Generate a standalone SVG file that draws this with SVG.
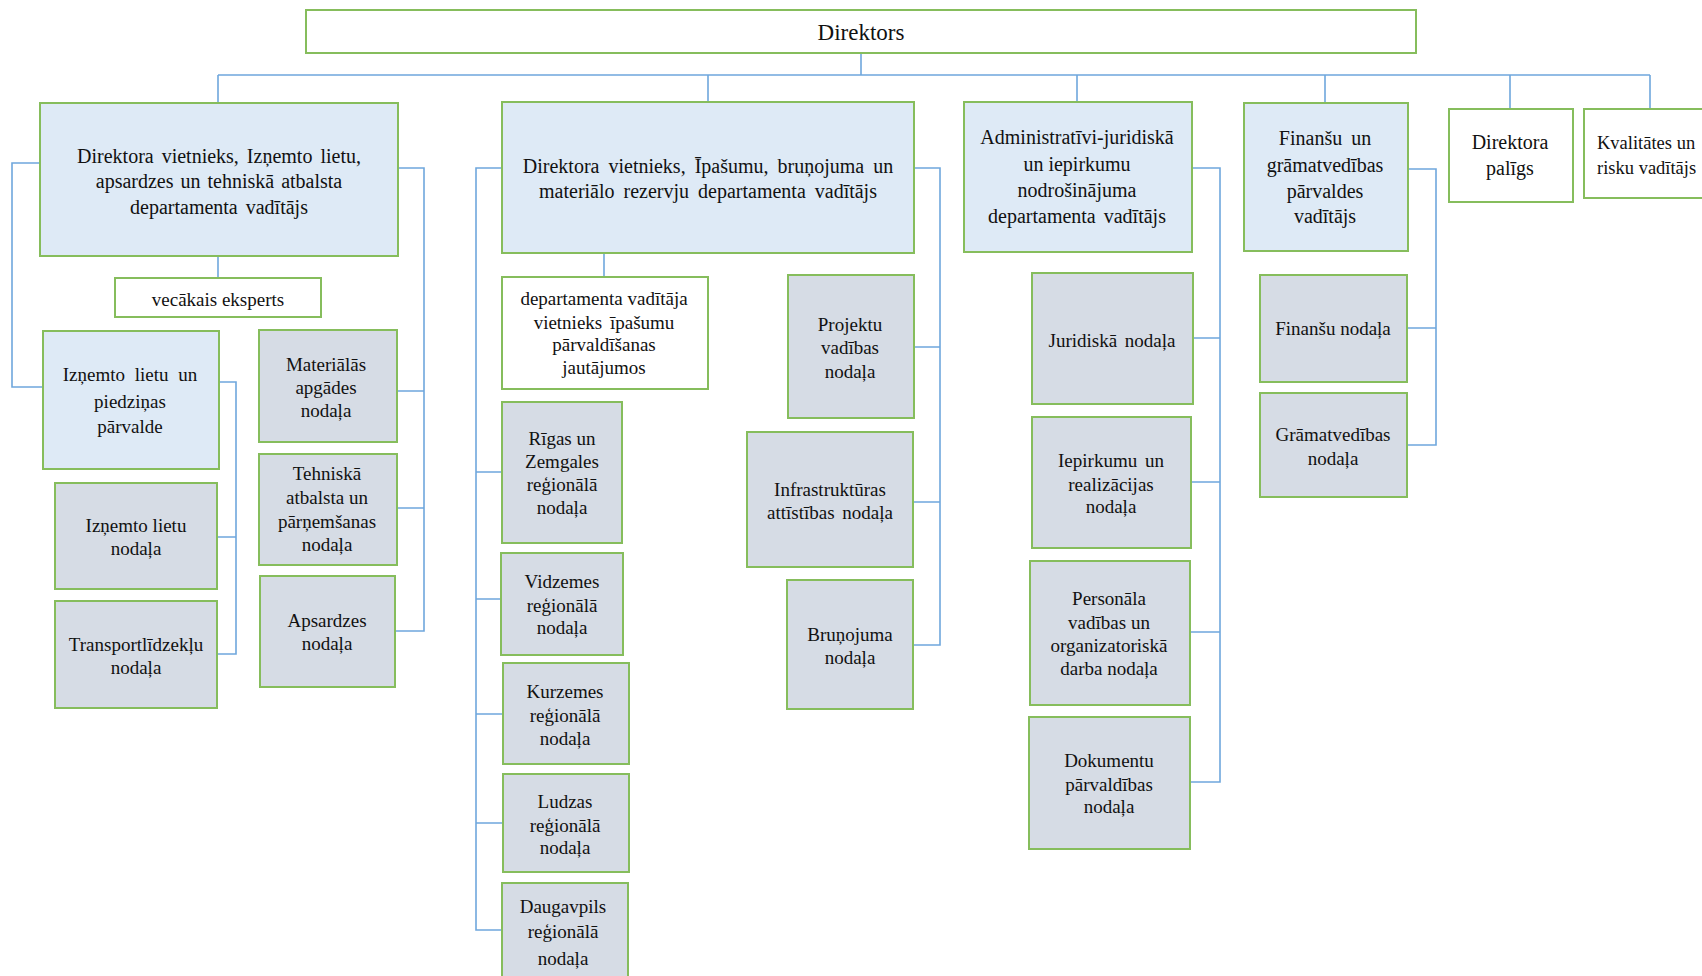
<svg xmlns="http://www.w3.org/2000/svg" width="1702" height="976" viewBox="0 0 1702 976">
<style>
.n{stroke:#86bd5c;stroke-width:2}
.w{fill:#ffffff}
.b{fill:#deeaf6}
.g{fill:#d6dce5}
text{font-family:"Liberation Serif","Times New Roman",serif;font-size:19px;fill:#111;text-anchor:middle}
.h text{font-size:20px}
.c{fill:none;stroke:#6fa7dd;stroke-width:1.6}
</style>
<rect width="1702" height="976" fill="#fff"/>
<g id="connectors" class="c">
<path d="M861,53V75M218,75H1650M218,75V103M708,75V102M1077,75V102M1325,75V103M1510,75V109M1650,75V109"/>
<path d="M40,163H12V387H43"/>
<path d="M397,168H424V631H395M397,391H424M397,508H424"/>
<path d="M218,256V278"/>
<path d="M219,382H236V654H217M217,537H236"/>
<path d="M502,168H476V930H502M476,472H502M476,599H501M476,714H503M476,823H503"/>
<path d="M604,253V277"/>
<path d="M914,168H940V645H913M914,347H940M913,502H940"/>
<path d="M1192,168H1220V782H1190M1193,338H1220M1191,482H1220M1190,632H1220"/>
<path d="M1408,169H1436V445H1407M1407,328H1436"/>
</g>
<g id="direktors"><rect class="n w" x="306" y="10" width="1110" height="43"/><text x="861" y="40" style="font-size:23px">Direktors</text></g>
<g id="vietnieks1" class="h"><rect class="n b" x="40" y="103" width="358" height="153"/><text x="219" y="163" word-spacing="3">Direktora vietnieks, Izņemto lietu,</text><text x="219" y="188" word-spacing="2">apsardzes un tehniskā atbalsta</text><text x="219" y="214" word-spacing="3">departamenta vadītājs</text></g>
<g id="vecakais"><rect class="n w" x="115" y="278" width="206" height="39"/><text x="218" y="306">vecākais eksperts</text></g>
<g id="parvalde"><rect class="n b" x="43" y="331" width="176" height="138"/><text x="130" y="381" word-spacing="5">Izņemto lietu un</text><text x="130" y="408">piedziņas</text><text x="130" y="433">pārvalde</text></g>
<g id="iznemto"><rect class="n g" x="55" y="483" width="162" height="106"/><text x="136" y="532">Izņemto lietu</text><text x="136" y="555">nodaļa</text></g>
<g id="transport"><rect class="n g" x="55" y="601" width="162" height="107"/><text x="136" y="651">Transportlīdzekļu</text><text x="136" y="674">nodaļa</text></g>
<g id="materialas"><rect class="n g" x="259" y="330" width="138" height="112"/><text x="326" y="371">Materiālās</text><text x="326" y="394">apgādes</text><text x="326" y="417">nodaļa</text></g>
<g id="tehniska"><rect class="n g" x="259" y="454" width="138" height="111"/><text x="327" y="480">Tehniskā</text><text x="327" y="504">atbalsta un</text><text x="327" y="528">pārņemšanas</text><text x="327" y="551">nodaļa</text></g>
<g id="apsardzes"><rect class="n g" x="260" y="576" width="135" height="111"/><text x="327" y="627">Apsardzes</text><text x="327" y="650">nodaļa</text></g>
<g id="vietnieks2" class="h"><rect class="n b" x="502" y="102" width="412" height="151"/><text x="708" y="173" word-spacing="4">Direktora vietnieks, Īpašumu, bruņojuma un</text><text x="708" y="198" word-spacing="4">materiālo rezervju departamenta vadītājs</text></g>
<g id="depvad"><rect class="n w" x="502" y="277" width="206" height="112"/><text x="604" y="305">departamenta vadītāja</text><text x="604" y="329" word-spacing="3">vietnieks īpašumu</text><text x="604" y="351">pārvaldīšanas</text><text x="604" y="374">jautājumos</text></g>
<g id="rigas"><rect class="n g" x="502" y="402" width="120" height="141"/><text x="562" y="445">Rīgas un</text><text x="562" y="468">Zemgales</text><text x="562" y="491">reģionālā</text><text x="562" y="514">nodaļa</text></g>
<g id="vidzemes"><rect class="n g" x="501" y="553" width="122" height="102"/><text x="562" y="588">Vidzemes</text><text x="562" y="612">reģionālā</text><text x="562" y="634">nodaļa</text></g>
<g id="kurzemes"><rect class="n g" x="503" y="663" width="126" height="101"/><text x="565" y="698">Kurzemes</text><text x="565" y="722">reģionālā</text><text x="565" y="745">nodaļa</text></g>
<g id="ludzas"><rect class="n g" x="503" y="774" width="126" height="98"/><text x="565" y="808">Ludzas</text><text x="565" y="832">reģionālā</text><text x="565" y="854">nodaļa</text></g>
<g id="daugavpils"><rect class="n g" x="502" y="883" width="126" height="110"/><text x="563" y="913">Daugavpils</text><text x="563" y="938">reģionālā</text><text x="563" y="965">nodaļa</text></g>
<g id="projektu"><rect class="n g" x="788" y="275" width="126" height="143"/><text x="850" y="331">Projektu</text><text x="850" y="354">vadības</text><text x="850" y="378">nodaļa</text></g>
<g id="infrastrukturas"><rect class="n g" x="747" y="432" width="166" height="135"/><text x="830" y="496">Infrastruktūras</text><text x="830" y="519" word-spacing="3">attīstības nodaļa</text></g>
<g id="brunojuma"><rect class="n g" x="787" y="580" width="126" height="129"/><text x="850" y="641">Bruņojuma</text><text x="850" y="664">nodaļa</text></g>
<g id="administrativi" class="h"><rect class="n b" x="964" y="102" width="228" height="150"/><text x="1077" y="144">Administratīvi-juridiskā</text><text x="1077" y="171">un iepirkumu</text><text x="1077" y="197">nodrošinājuma</text><text x="1077" y="223" word-spacing="3">departamenta vadītājs</text></g>
<g id="juridiska"><rect class="n g" x="1032" y="273" width="161" height="131"/><text x="1112" y="347" word-spacing="3">Juridiskā nodaļa</text></g>
<g id="iepirkumu"><rect class="n g" x="1032" y="417" width="159" height="131"/><text x="1111" y="467" word-spacing="3">Iepirkumu un</text><text x="1111" y="491">realizācijas</text><text x="1111" y="513">nodaļa</text></g>
<g id="personala"><rect class="n g" x="1030" y="561" width="160" height="144"/><text x="1109" y="605">Personāla</text><text x="1109" y="629">vadības un</text><text x="1109" y="652">organizatoriskā</text><text x="1109" y="675">darba nodaļa</text></g>
<g id="dokumentu"><rect class="n g" x="1029" y="717" width="161" height="132"/><text x="1109" y="767">Dokumentu</text><text x="1109" y="791">pārvaldības</text><text x="1109" y="813">nodaļa</text></g>
<g id="finansu" class="h"><rect class="n b" x="1244" y="103" width="164" height="148"/><text x="1325" y="145" word-spacing="4">Finanšu un</text><text x="1325" y="172">grāmatvedības</text><text x="1325" y="198">pārvaldes</text><text x="1325" y="223">vadītājs</text></g>
<g id="finansu-nodala"><rect class="n g" x="1260" y="275" width="147" height="107"/><text x="1333" y="335">Finanšu nodaļa</text></g>
<g id="gramatvedibas"><rect class="n g" x="1260" y="393" width="147" height="104"/><text x="1333" y="441">Grāmatvedības</text><text x="1333" y="465">nodaļa</text></g>
<g id="paligs" class="h"><rect class="n w" x="1449" y="109" width="124" height="93"/><text x="1510" y="149">Direktora</text><text x="1510" y="175">palīgs</text></g>
<g id="kvalitates"><rect class="n w" x="1584" y="109" width="140" height="89"/><text x="1597" y="149" style="text-anchor:start;font-size:18.5px">Kvalitātes un</text><text x="1597" y="174" style="text-anchor:start;font-size:18.5px">risku vadītājs</text></g>
</svg>
